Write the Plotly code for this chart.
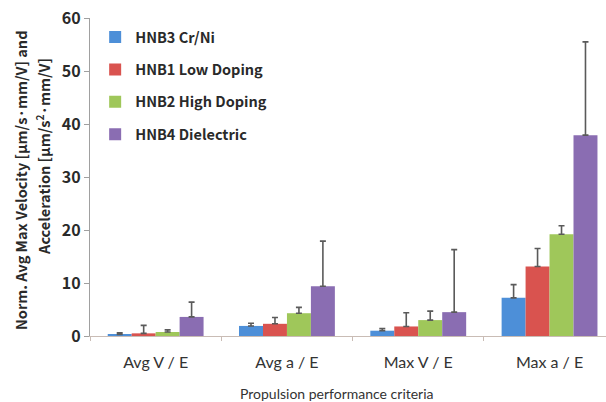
import plotly.graph_objects as go

# Propulsion performance criteria (x categories)
categories = ["Avg V / E", "Avg a / E", "Max V / E", "Max a / E"]

# Series: normalized mean values and upper error bars
series_names = ["HNB3 Cr/Ni", "HNB1 Low Doping", "HNB2 High Doping", "HNB4 Dielectric"]
hnb3_vals = [0.3, 1.9, 1.0, 7.2]
hnb3_errs = [0.3, 0.5, 0.4, 2.5]
hnb1_vals = [0.5, 2.3, 1.8, 13.1]
hnb1_errs = [1.5, 1.2, 2.6, 3.4]
hnb2_vals = [0.75, 4.3, 3.0, 19.2]
hnb2_errs = [0.4, 1.1, 1.7, 1.6]
hnb4_vals = [3.6, 9.4, 4.5, 37.9]
hnb4_errs = [2.8, 8.5, 11.8, 17.6]

y_ticks = [0, 10, 20, 30, 40, 50, 60]

colors = ["#4d8fd8", "#d9534f", "#9fc75a", "#8a6db2"]
values = [hnb3_vals, hnb1_vals, hnb2_vals, hnb4_vals]
errors = [hnb3_errs, hnb1_errs, hnb2_errs, hnb4_errs]

W, H = 606, 402
L, R, T, B = 90, 0, 18, 66

fig = go.Figure()
for name, vals, errs, col in zip(series_names, values, errors, colors):
    fig.add_trace(go.Bar(
        x=categories, y=vals, name=name, legendgroup=name,
        marker=dict(color=col, line=dict(width=0)),
        error_y=dict(type="data", array=errs, arrayminus=[0] * len(errs),
                     symmetric=False, color="#5a5a5a", thickness=1.6, width=3),
    ))

bold_font = dict(family="Noto Sans CJK JP", size=14.5, color="#2a2a2a", weight="bold")

fig.update_layout(
    width=W, height=H,
    margin=dict(l=L, r=R, t=T, b=B),
    paper_bgcolor="white", plot_bgcolor="white",
    barmode="group", bargap=0.27, bargroupgap=0,
    showlegend=True,
    legend=dict(
        x=0.01, y=0.99, xref="paper", yref="paper", xanchor="left", yanchor="top",
        bgcolor="rgba(0,0,0,0)",
        font=bold_font,
        tracegroupgap=10.5, traceorder="grouped",
    ),
    xaxis=dict(
        type="category", range=[-0.5, 3.43],
        showline=True, linecolor="#c9bcb5", linewidth=1.2,
        ticks="outside", tickson="boundaries", ticklen=4, tickcolor="#c9bcb5",
        tickfont=dict(family="Lato", size=16, color="#333333"),
        ticklabelstandoff=12,
        showgrid=False, zeroline=False,
    ),
    yaxis=dict(
        range=[0, 60], tickvals=y_ticks,
        showline=True, linecolor="#a0a0a0", linewidth=1.2,
        ticks="outside", ticklen=5, tickcolor="#a0a0a0",
        tickfont=dict(family="Noto Sans CJK JP", size=16, color="#2a2a2a", weight="bold"),
        showgrid=False, zeroline=False,
    ),
)

# Axis titles
fig.add_annotation(
    text="Norm. Avg Max Velocity [μm/s·mm/V] and",
    xref="paper", yref="paper", x=-0.136, y=0.49, xanchor="center", yanchor="middle",
    textangle=-90, showarrow=False, font=bold_font,
)
fig.add_annotation(
    text="Acceleration [μm/s<sup>2</sup>·mm/V]",
    xref="paper", yref="paper", x=-0.09, y=0.565, xanchor="center", yanchor="middle",
    textangle=-90, showarrow=False, font=bold_font,
)
fig.add_annotation(
    text="Propulsion performance criteria",
    xref="paper", yref="paper", x=(337 - L) / (W - L), y=-0.18,
    xanchor="center", yanchor="middle", showarrow=False,
    font=dict(family="Lato", size=14, color="#333333"),
)

fig.write_html("out.html")
